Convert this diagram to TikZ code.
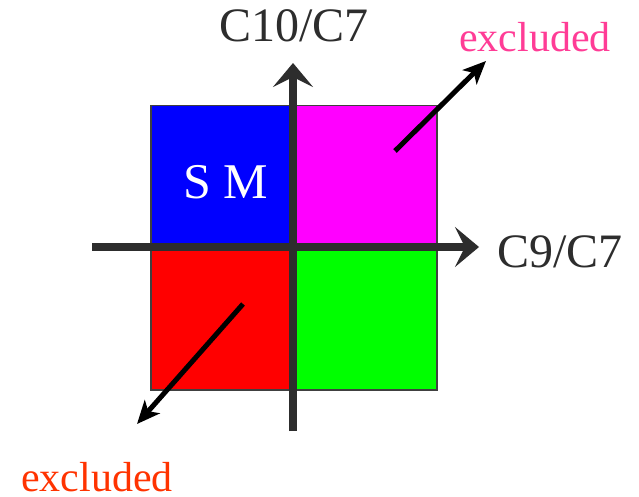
\documentclass[tikz,border=0pt]{standalone}
\usepackage{fontspec}
\setmainfont{Liberation Serif}
\usetikzlibrary{arrows.meta}
\definecolor{axisgray}{RGB}{45,45,45}
\definecolor{edgegray}{RGB}{64,64,64}
\definecolor{exclpink}{RGB}{255,60,150}
\definecolor{exclred}{RGB}{255,51,0}
\begin{document}
\begin{tikzpicture}[x=1pt,y=-1pt,
  quad/.style={draw=edgegray,line width=1.5pt,minimum width=143pt,minimum height=142pt,inner sep=0pt,anchor=north west},
  axis/.style={draw=axisgray,line width=7.5pt,-{Stealth[length=24pt,width=40pt,inset=10pt]}},
  excl/.style={draw=black,line width=5pt,-{Stealth[length=23pt,width=20pt,inset=6pt]}},
  lbl/.style={inner sep=0pt,font=\fontsize{48}{48}\selectfont,text=axisgray},
  exl/.style={inner sep=0pt,text depth=0pt,font=\fontsize{42}{42}\selectfont}]
\useasboundingbox (0,0) rectangle (639,497);
\fill[white] (0,0) rectangle (639,497);
\node[quad,fill={rgb,255:red,0;green,0;blue,255}] (sm) at (150,105) {};
\node[quad,fill={rgb,255:red,255;green,0;blue,255}] (mg) at (293,105) {};
\node[quad,fill={rgb,255:red,255;green,0;blue,0}] (rd) at (150,247) {};
\node[quad,fill={rgb,255:red,0;green,255;blue,0}] (gr) at (293,247) {};
\coordinate (hl) at (92,247);
\coordinate (hr) at (479,247);
\coordinate (vb) at (293,431);
\coordinate (vt) at (293,63);
\draw[axis] (hl) -- (hr);
\draw[axis] (vb) -- (vt);
\node[inner sep=0pt,anchor=base,text=white,font=\fontsize{50}{50}\selectfont] (smt) at (225.5,198) {S M};
\coordinate (a1s) at (395,151);
\coordinate (a1e) at (486,61);
\coordinate (a2s) at (243,304);
\coordinate (a2e) at (137,424);
\draw[excl] (a1s) -- (a1e);
\draw[excl] (a2s) -- (a2e);
\node[lbl,anchor=base] (c10) at (294,42) {C10/C7};
\node[lbl,anchor=base west] (c9) at (497,267) {C9/C7};
\node[exl,anchor=base west,text=exclpink] (ex1) at (459,52) {excluded};
\node[exl,anchor=base west,text=exclred] (ex2) at (21,491) {excluded};
\end{tikzpicture}
\end{document}
